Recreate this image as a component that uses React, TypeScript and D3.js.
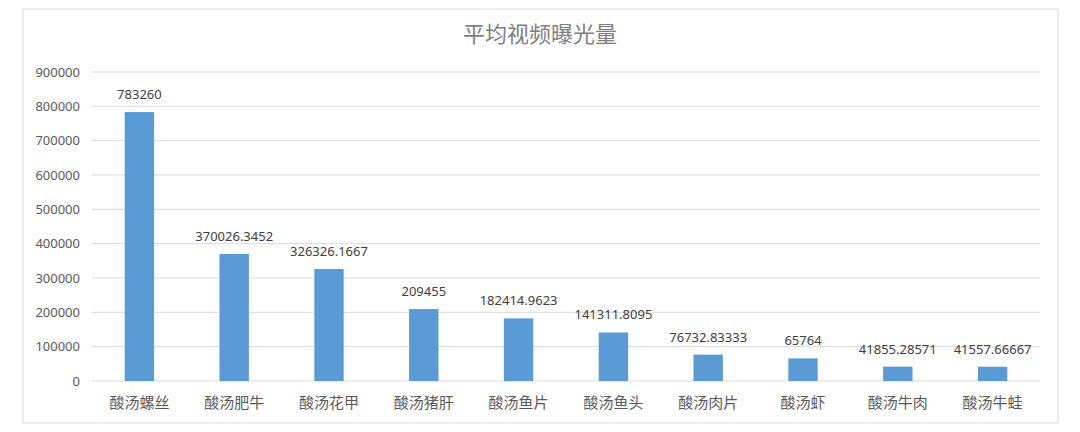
import React from "react"
import * as d3 from "d3"

const title = "平均视频曝光量"
const categories = [
	"酸汤螺丝",
	"酸汤肥牛",
	"酸汤花甲",
	"酸汤猪肝",
	"酸汤鱼片",
	"酸汤鱼头",
	"酸汤肉片",
	"酸汤虾",
	"酸汤牛肉",
	"酸汤牛蛙",
]
const values = [
	783260, 370026.3452, 326326.1667, 209455, 182414.9623, 141311.8095,
	76732.83333, 65764, 41855.28571, 41557.66667,
]
const valueLabels = [
	"783260",
	"370026.3452",
	"326326.1667",
	"209455",
	"182414.9623",
	"141311.8095",
	"76732.83333",
	"65764",
	"41855.28571",
	"41557.66667",
]
const yTicks = [0, 100000, 200000, 300000, 400000, 500000, 600000, 700000, 800000, 900000]

const App: React.FC = () => {
	const width = 1080
	const height = 432
	// plot area within the svg
	const margin = { top: 72, right: 40, bottom: 51, left: 92 }
	const innerW = width - margin.left - margin.right
	const innerH = height - margin.top - margin.bottom

	const x = d3.scaleBand<string>().domain(categories).range([0, innerW]).paddingInner(0.69).paddingOuter(0.345)
	const y = d3.scaleLinear().domain([0, 900000]).range([innerH, 0])

	const cjk = "'Noto Sans CJK SC', 'Noto Sans', sans-serif"
	const num = "'Noto Sans', 'Noto Sans CJK SC', sans-serif"
	const textColor = "#595959"

	return (
		<svg
			width={width}
			height={height}
			style={{ position: "absolute", left: 0, top: 0, background: "#fff" }}
			fontFamily={cjk}>
			<rect x={23} y={9} width={1035} height={414} fill="#fff" stroke="#d9d9d9" strokeWidth={1} />
			<text x={540} y={42} textAnchor="middle" fontSize={22} fill="#7f7f7f">
				{title}
			</text>
			<g transform={`translate(${margin.left},${margin.top})`}>
				{/* grid + y labels */}
				{yTicks.map((t) => (
					<g key={t}>
						<line x1={0} x2={innerW} y1={y(t)} y2={y(t)} stroke="#d9d9d9" strokeWidth={1} />
						<text
							x={-12}
							y={y(t)}
							dy="0.35em"
							textAnchor="end"
							fontFamily={num}
							fontSize={13}
							fill={textColor}>
							{t}
						</text>
					</g>
				))}
				{/* bars */}
				{values.map((v, i) => (
					<rect
						key={categories[i]}
						x={x(categories[i])}
						y={y(v)}
						width={x.bandwidth()}
						height={innerH - y(v)}
						fill="#5b9bd5"
					/>
				))}
				{/* value labels */}
				{values.map((v, i) => (
					<text
						key={"l" + i}
						x={(x(categories[i]) as number) + x.bandwidth() / 2}
						y={y(v) - 13}
						textAnchor="middle"
						fontFamily={num}
						fontSize={13}
						fill="#404040">
						{valueLabels[i]}
					</text>
				))}
				{/* category labels */}
				{categories.map((c) => (
					<text
						key={c}
						x={(x(c) as number) + x.bandwidth() / 2}
						y={innerH + 27}
						textAnchor="middle"
						fontSize={15}
						fill={textColor}>
						{c}
					</text>
				))}
			</g>
		</svg>
	)
}

export default App
